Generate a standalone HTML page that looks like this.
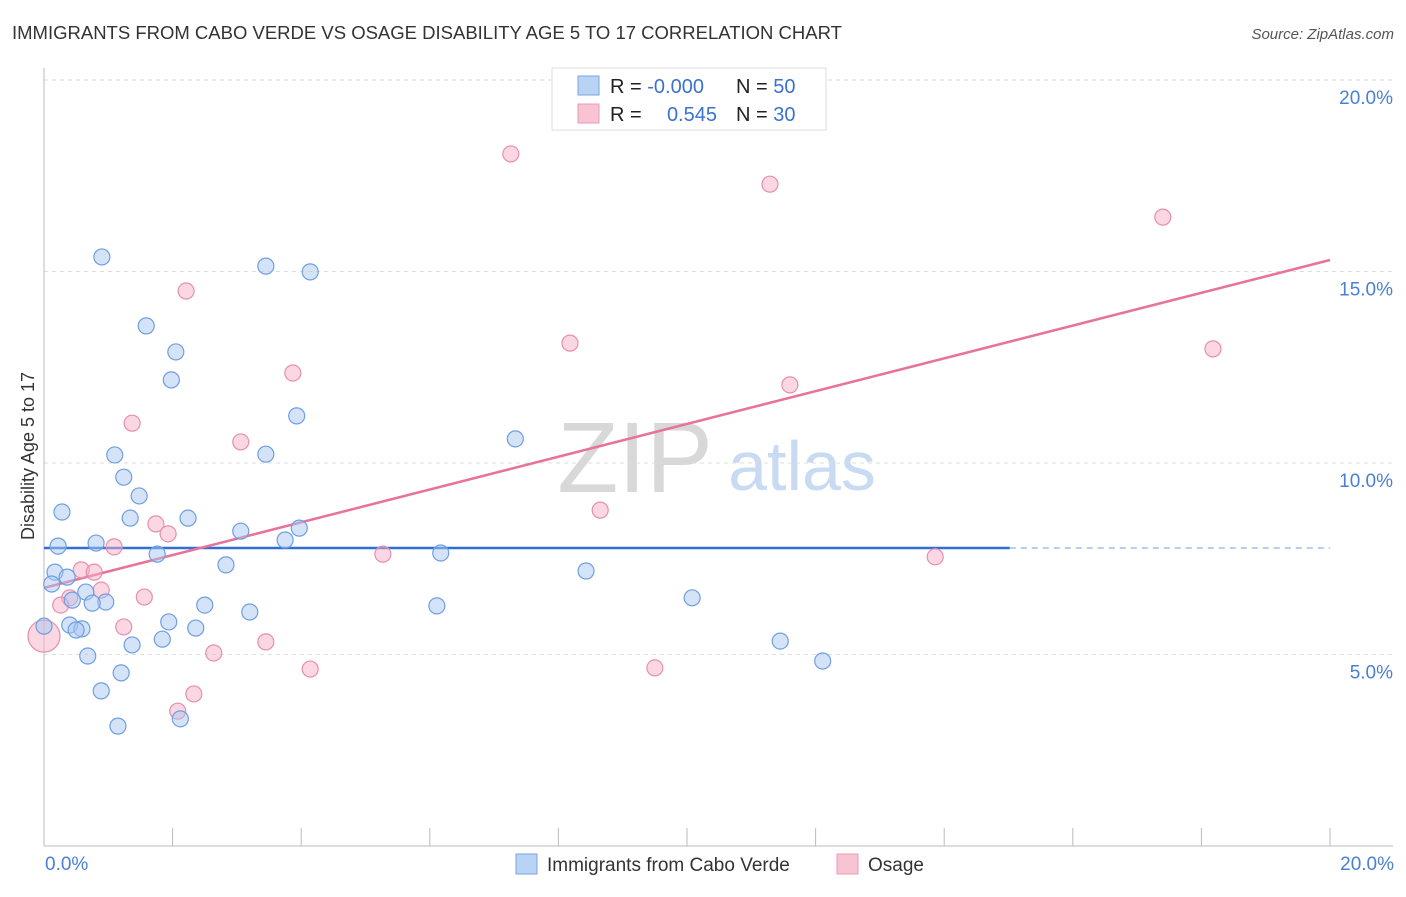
<!DOCTYPE html>
<html><head><meta charset="utf-8"><style>
body{margin:0;background:#fff;}
svg text{font-family:"Liberation Sans",sans-serif;}
</style></head><body>
<svg id="c" width="1406" height="892" xmlns="http://www.w3.org/2000/svg">
<text x="12" y="39" font-size="18.5" fill="#333">IMMIGRANTS FROM CABO VERDE VS OSAGE DISABILITY AGE 5 TO 17 CORRELATION CHART</text>
<text x="1394" y="39" font-size="15" fill="#555" font-style="italic" text-anchor="end">Source: ZipAtlas.com</text>
<text transform="translate(34,456) rotate(-90)" font-size="18" fill="#333" text-anchor="middle">Disability Age 5 to 17</text>
<g><text x="635" y="492" font-size="100" fill="#d8d8d8" font-family="Liberation Serif,serif" text-anchor="middle">ZIP</text><text x="802" y="490" font-size="70" fill="#c8dbf3" text-anchor="middle">atlas</text></g>
<g id="grid"></g><g id="axes"></g><g id="lines"></g><g id="pts"></g>
<g>
<rect x="552" y="68" width="274" height="62" fill="#fff" stroke="#ddd"/>
<rect x="578" y="76" width="21" height="19" fill="#b9d3f5" stroke="#7aa6e0"/>
<rect x="578" y="104" width="21" height="19" fill="#f8c4d4" stroke="#e89ab4"/>
<text x="610" y="93" font-size="20" fill="#222">R = <tspan fill="#3a72d0">-0.000</tspan></text>
<text x="736" y="93" font-size="20" fill="#222">N = <tspan fill="#3a72d0">50</tspan></text>
<text x="610" y="121" font-size="20" fill="#222">R = </text>
<text x="717" y="121" font-size="20" fill="#3a72d0" text-anchor="end">0.545</text>
<text x="736" y="121" font-size="20" fill="#222">N = <tspan fill="#3a72d0">30</tspan></text>
</g>
<g>
<rect x="516" y="854" width="21" height="20" fill="#b9d3f5" stroke="#7aa6e0"/>
<text x="547" y="871" font-size="19" fill="#333">Immigrants from Cabo Verde</text>
<rect x="837" y="854" width="21" height="20" fill="#f8c4d4" stroke="#e89ab4"/>
<text x="868" y="871" font-size="19" fill="#333">Osage</text>
</g>
</svg>
<script>
const blueX=[0.90,3.45,4.14,1.59,2.05,1.98,3.93,7.33,1.10,3.45,1.24,1.48,0.28,1.34,2.24,3.06,3.97,0.22,0.81,3.75,1.76,6.17,2.83,0.17,0.36,0.12,8.43,0.65,0.44,0.96,0.75,2.50,6.11,3.20,10.08,1.94,0,0.40,0.59,0.50,2.36,1.84,1.37,11.45,0.68,12.11,1.20,0.89,2.12,1.15];
const blueY=[15.38,15.14,14.99,13.58,12.90,12.17,11.23,10.63,10.21,10.23,9.63,9.14,8.72,8.56,8.56,8.22,8.30,7.83,7.91,7.99,7.62,7.65,7.34,7.15,7.02,6.84,7.18,6.63,6.42,6.37,6.34,6.29,6.27,6.11,6.48,5.85,5.74,5.77,5.67,5.64,5.69,5.40,5.25,5.35,4.96,4.83,4.52,4.05,3.32,3.13];
const pinkX=[7.26,11.29,17.40,2.21,8.18,18.18,3.87,11.60,1.37,3.06,8.65,1.74,1.93,1.09,5.27,13.86,0.58,0.78,0.89,1.56,0.40,0.26,1.24,0,3.45,2.64,4.14,9.50,2.33,2.08];
const pinkY=[18.07,17.28,16.42,14.49,13.13,12.98,12.35,12.04,11.04,10.55,8.77,8.41,8.15,7.81,7.62,7.55,7.21,7.15,6.68,6.50,6.48,6.29,5.72,5.48,5.33,5.04,4.62,4.65,3.97,3.52];
const blueLine=[7.78,7.78];
const blueSolidEnd=15.02;
const pinkLine=[6.74,15.30];
const yTicks=[5,10,15,20];
const xTicks=[0,2,4,6,8,10,12,14,16,18,20];
const sx=v=>44+v*64.3, sy=v=>846-v*38.3;
const NS='http://www.w3.org/2000/svg';
function mk(p,t,a){const e=document.createElementNS(NS,t);for(const k in a)e.setAttribute(k,a[k]);p.appendChild(e);return e;}
const grid=document.getElementById('grid'),axes=document.getElementById('axes'),lines=document.getElementById('lines'),pts=document.getElementById('pts');
yTicks.forEach(t=>{
 const g=mk(grid,'line',{x1:44,x2:1393,y1:sy(t),y2:sy(t),stroke:'#ddd','stroke-dasharray':'4,4'});
 
 
 const l=mk(axes,'text',{x:1393,y:sy(t)+24,'font-size':19,fill:'#4a7fd4','text-anchor':'end'});
 l.textContent=t.toFixed(1)+'%';
 
 
});
mk(axes,'line',{x1:44,x2:44,y1:68,y2:846,stroke:'#bbb'});
mk(axes,'line',{x1:44,x2:1393,y1:846,y2:846,stroke:'#bbb'});
xTicks.forEach(t=>{const e=mk(axes,'line',{x1:sx(t),x2:sx(t),y1:828,y2:846,stroke:'#bbb'});
 
 });
const x0=mk(axes,'text',{x:45,y:870,'font-size':19,fill:'#4a7fd4'});x0.textContent='0.0%';


const x1=mk(axes,'text',{x:1394,y:870,'font-size':19,fill:'#4a7fd4','text-anchor':'end'});x1.textContent='20.0%';


function dot(x,y,f,s,r,name){const c=mk(pts,'circle',{cx:sx(x),cy:sy(y),r:r,fill:f,stroke:s,'stroke-width':1.2,'fill-opacity':0.5});
 
 }
pinkX.forEach((x,i)=>dot(x,pinkY[i],'#f5b0c6','#e68fae',x===0?16:8,'osage-point'));
blueX.forEach((x,i)=>dot(x,blueY[i],'#a9c8f2','#6f9fe0',8,'cabo-verde-point'));
const bl=mk(lines,'line',{x1:sx(0),x2:sx(blueSolidEnd),y1:sy(blueLine[0]),y2:sy(blueLine[0]+(blueLine[1]-blueLine[0])*blueSolidEnd/20),stroke:'#2f6fd6','stroke-width':2.5});


const bd=mk(lines,'line',{x1:sx(blueSolidEnd),x2:sx(20),y1:sy(blueLine[0]),y2:sy(blueLine[1]),stroke:'#9fbfe8','stroke-width':1.5,'stroke-dasharray':'6,5'});


const pl=mk(lines,'line',{x1:sx(0),x2:sx(20),y1:sy(pinkLine[0]),y2:sy(pinkLine[1]),stroke:'#e8739a','stroke-width':2.5});


</script>
</body></html>
